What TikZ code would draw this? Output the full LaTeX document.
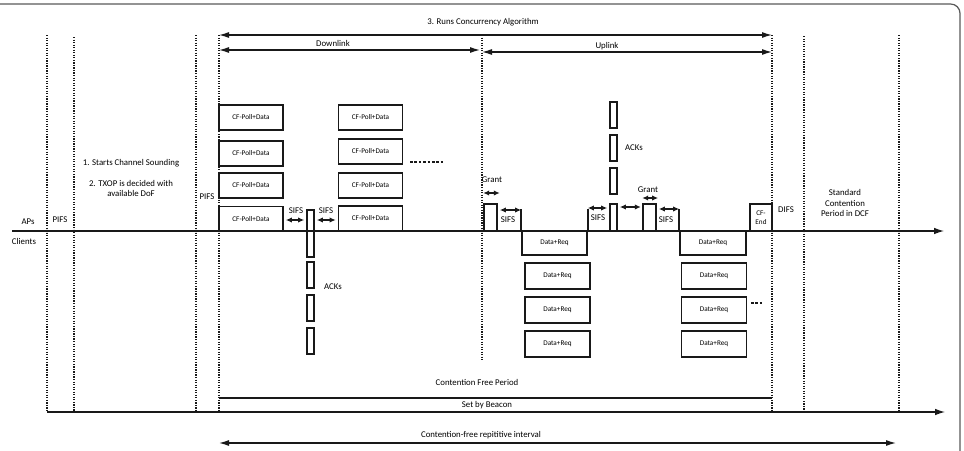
\documentclass[tikz,border=0pt]{standalone}
\usepackage{fontspec}
\setmainfont{Carlito}
\usetikzlibrary{arrows.meta}
\newcommand{\lblfont}{\fontsize{6.6}{7.8}\selectfont}
\newcommand{\boxfont}{\fontsize{5.4}{6.6}\selectfont}

\begin{document}
\begin{tikzpicture}[x=0.75pt, y=-0.75pt, color=black!90, line width=0.9pt,
	every node/.style={font=\lblfont, text=black, inner sep=0pt},
	slot/.style={draw, line width=1.2pt, font=\boxfont},
	pbox/.style={slot, minimum width=48pt, minimum height=18.5pt},
	dbox/.style={slot, minimum width=48.75pt, minimum height=19.5pt},
	ack/.style={slot, minimum width=5.25pt, minimum height=#1}, ack/.default=19.5pt,
	guide/.style={densely dotted, line width=0.9pt},
	spanarrow/.style={{Latex[length=7.5pt,width=4.5pt]}-{Latex[length=7.5pt,width=4.5pt]}},
	sifsarrow/.style={{Latex[length=4.5pt,width=4pt]}-{Latex[length=4.5pt,width=4pt]}},
	dashrow/.style={dash pattern=on 1.9pt off 1.4pt, line width=1pt}]
	\useasboundingbox (0,0) rectangle (964,450);
	\draw[rounded corners=7pt, black!65] (-20,4) -- (960,4) -- (960,470);
	\foreach \x/\t/\b in {47/35/412, 74/37/412, 196/35/412, 219/35/412, 482/35/360, 772/35/412, 804/36/412, 899/35/412}
		{\draw[guide] (\x,\t) -- (\x,\b);}
	\foreach \x in {47,74,196,219,482,772,804,899} {\fill (\x,231) circle (1.1pt);}
	\coordinate (base0) at (12,231); \coordinate (base1) at (944,231);
	\draw[-{Latex[length=7.5pt,width=5pt]}] (base0) -- (base1);
	\node (aps) at (28,222) {APs};
	\node (clients) at (24,241) {Clients};
	\node (pifsa) at (60,220) {PIFS};
	\node (pifsb) at (207,197) {PIFS};
	\node (sound) at (131,163) {1. Starts Channel Sounding};
	\node[align=center] (txop) at (131,188.5) {2. TXOP is decided with\\available DoF};
	% top spans
	\coordinate (algo0) at (219,35); \coordinate (algo1) at (772,35);
	\draw[spanarrow] (algo0) -- (algo1);
	\node (algo) at (483,22) {3. Runs Concurrency Algorithm};
	\coordinate (down0) at (219,50); \coordinate (down1) at (480,50);
	\draw[spanarrow] (down0) -- (down1);
	\node (down) at (333,43) {Downlink};
	\coordinate (up0) at (482,52); \coordinate (up1) at (772,52);
	\draw[spanarrow] (up0) -- (up1);
	\node (up) at (607,46) {Uplink};
	% downlink
	\foreach \n/\y in {1/117.5,2/153.5,3/185.5,4/219} {\node[pbox] (dla\n) at (251,\y) {CF-Poll+Data};}
	\foreach \n/\y in {1/117.5,2/151.5,3/185.5,4/218.5} {\node[pbox] (dlb\n) at (370.5,\y) {CF-Poll+Data};}
	\draw[dashrow] (410,162) -- (445,162);
	\node[ack=35.25pt] (ackd0) at (310.5,233.5) {};
	\foreach \n/\y in {1/275,2/308,3/341} {\node[ack] (ackd\n) at (310.5,\y) {};}
	\node (ackdl) at (333,287) {ACKs};
	\coordinate (sifsrow) at (0,220);
	\draw[sifsarrow, shorten <=1.5pt, shorten >=1.5pt] (dla4.east |- sifsrow) -- (ackd0.west |- sifsrow);
	\draw[sifsarrow, shorten <=1.5pt, shorten >=1.5pt] (ackd0.east |- sifsrow) -- (dlb4.west |- sifsrow);
	\node (sifsa) at (296,211) {SIFS};
	\node (sifsb) at (326,211) {SIFS};
	% uplink
	\node[slot, minimum width=9.75pt, minimum height=20.25pt] (grant1) at (490.5,217.5) {};
	\node[slot, minimum width=48.75pt, minimum height=18pt] (ua0) at (554.5,243) {Data+Req};
	\node[ack=20.25pt] (acku0) at (613.5,217.5) {};
	\foreach \n/\y in {1/115,2/148,3/181} {\node[ack] (acku\n) at (613.5,\y) {};}
	\node (ackul) at (634,148) {ACKs};
	\node[slot, minimum width=9.75pt, minimum height=20.25pt] (grant2) at (649.5,217.5) {};
	\node[slot, minimum width=49.5pt, minimum height=18pt] (ub0) at (713,243) {Data+Req};
	\node[slot, minimum width=16.5pt, minimum height=20.25pt, align=center] (cfend) at (761,217.5) {CF-\\End};
	\foreach \n/\y in {1/276,2/310,3/344} {
		\node[dbox] (ua\n) at (557.5,\y) {Data+Req};
		\node[dbox] (ub\n) at (714,\y) {Data+Req};
	}
	\draw[dashrow] (751,303) -- (764,303);
	\coordinate (tickrow) at (0,209);
	\draw[line width=1.2pt] (ua0.north west) -- (ua0.north west |- tickrow);
	\draw[line width=1.2pt] (ua0.north east) -- (ua0.north east |- tickrow);
	\draw[line width=1.2pt] (ub0.north west) -- (ub0.north west |- tickrow);
	\coordinate (grantrowa) at (0,193); \coordinate (grantrowb) at (0,198);
	\draw[sifsarrow] (grant1.west |- grantrowa) -- ([xshift=1.5pt]grant1.east |- grantrowa);
	\draw[sifsarrow] (grant2.west |- grantrowb) -- ([xshift=1pt]grant2.east |- grantrowb);
	\node (granta) at (492,180) {Grant};
	\node (grantb) at (648,190) {Grant};
	\coordinate (sifsrowa) at (0,210); \coordinate (sifsrowb) at (0,208); \coordinate (sifsrowc) at (0,207);
	\draw[sifsarrow, shorten <=1.5pt] (grant1.east |- sifsrowa) -- (ua0.north west |- sifsrowa);
	\draw[sifsarrow, shorten >=1.5pt] (ua0.north east |- sifsrowb) -- (acku0.west |- sifsrowb);
	\draw[sifsarrow, shorten <=1.5pt, shorten >=1pt] (acku0.east |- sifsrowc) -- (grant2.west |- sifsrowc);
	\draw[sifsarrow, shorten <=1.5pt] (grant2.east |- tickrow) -- (ub0.north west |- tickrow);
	\node (sifsc) at (508,220) {SIFS};
	\node (sifsd) at (598,218) {SIFS};
	\node (sifse) at (666,220) {SIFS};
	\node (difs) at (786,210) {DIFS};
	\node[align=center] (dcf) at (845,203) {Standard\\Contention\\Period in DCF};
	% bottom spans
	\coordinate (free0) at (219,398); \coordinate (free1) at (772,398);
	\draw (free0) -- (free1);
	\node (free) at (477,382) {Contention Free Period};
	\coordinate (beacon0) at (47,412); \coordinate (beacon1) at (945,412);
	\draw[-{Latex[length=7.5pt,width=5pt]}] (beacon0) -- (beacon1);
	\node (beacon) at (487,405) {Set by Beacon};
	\coordinate (rep0) at (219,443); \coordinate (rep1) at (896,443);
	\draw[spanarrow] (rep0) -- (rep1);
	\node (rep) at (481,435) {Contention-free repititive interval};
\end{tikzpicture}
\end{document}
